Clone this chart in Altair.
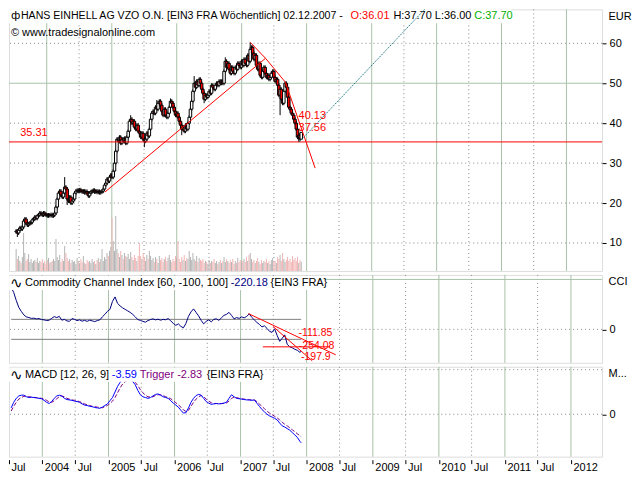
import altair as alt
import pandas as pd

FONT = "Liberation Sans"

# ---------------- data ----------------
dates = pd.date_range(end="2007-12-02", periods=230, freq="7D")

close = [
    13.0, 12.5, 13.2, 13.8, 13.5, 14.0, 15.5, 16.0, 15.0, 14.5,
    14.8, 15.0, 15.2, 15.8, 16.0, 16.5, 16.2, 16.8, 17.0, 17.5,
    17.3, 17.0, 17.5, 17.2, 17.0, 16.8, 17.0, 16.9, 17.1, 16.8,
    17.0, 17.5, 19.0, 21.0, 22.5, 23.0, 22.0, 21.5, 22.5, 24.0,
    23.5, 21.0, 20.5, 21.5, 20.0, 20.5, 21.0, 22.5, 23.0, 23.2,
    23.0, 23.3, 23.0, 22.8, 23.0, 22.6, 22.9, 22.5, 21.8, 22.5,
    22.8, 23.0, 23.2, 22.8, 23.0, 22.7, 22.9, 22.6, 22.8, 23.0,
    23.5, 24.5, 25.0, 26.0, 25.5, 26.5, 27.0, 26.5, 28.0, 30.0,
    33.0, 36.0, 35.5, 36.5, 35.0, 36.0, 35.5, 36.2, 35.0, 36.5,
    38.0, 40.5, 41.0, 40.0, 40.5, 39.0, 38.5, 39.5, 38.0, 37.5,
    36.5, 37.5, 36.0, 35.5, 36.0, 37.5, 36.8, 38.5, 41.0, 42.5,
    43.0, 42.5, 44.0, 43.5, 45.0, 45.5, 44.5, 43.0, 42.0, 43.5,
    42.0, 41.5, 42.5, 44.0, 45.5, 45.0, 44.0, 43.0, 42.0, 42.5,
    41.5, 40.5, 39.5, 38.5, 39.0, 38.0, 39.5, 38.5, 40.0, 41.5,
    43.5, 45.5, 48.0, 50.0, 49.0, 50.5, 49.5, 51.0, 50.0, 48.5,
    47.5, 46.0, 47.0, 46.5, 47.0, 48.0, 47.5, 49.5, 49.0, 48.5,
    49.5, 50.0, 49.5, 50.5, 50.0, 50.5, 50.0, 53.0, 55.5, 54.0,
    55.0, 53.5, 52.5, 54.0, 53.0, 52.5, 54.0, 53.5, 55.0, 54.5,
    54.0, 55.5, 54.5, 56.0, 55.0, 54.5, 57.0, 55.5, 58.5, 59.0,
    57.5, 56.0, 57.0, 54.5, 53.5, 55.0, 52.0, 51.5, 53.0, 54.0,
    52.5, 51.5, 52.0, 51.0, 51.5, 52.5, 53.0, 51.5, 50.5, 51.0,
    49.5, 47.0, 48.5, 46.0, 45.0, 48.0, 50.0, 49.0, 46.5, 44.0,
    43.5, 42.5, 42.0, 41.0, 40.0, 38.5, 36.5, 37.0, 36.01, 37.70,
]
first_open = 12.8
high_spikes = {39: 26.5, 92: 42.0, 113: 45.8, 124: 46.2, 143: 51.8, 168: 56.5, 188: 60.2, 229: 37.70}
low_spikes = {1: 11.5, 41: 19.5, 103: 34.0, 133: 37.0, 151: 45.0, 212: 42.0, 227: 35.3, 229: 36.00}

volume = [
    22, 12, 15, 10, 8, 14, 38, 18, 10, 12,
    17, 9, 12, 8, 10, 11, 9, 13, 8, 10,
    9, 12, 8, 10, 7, 11, 13, 8, 9, 10,
    12, 10, 32, 14, 11, 16, 9, 12, 10, 25,
    18, 13, 10, 12, 8, 11, 9, 10, 7, 13,
    10, 8, 12, 9, 15, 8, 7, 11, 9, 10,
    8, 12, 9, 10, 7, 11, 13, 9, 12, 22,
    10, 14, 12, 18, 15, 20, 24, 53, 30, 20,
    55, 22, 18, 14, 20, 16, 12, 18, 15, 14,
    17, 12, 19, 14, 11, 16, 13, 10, 15, 28,
    15, 12, 18, 14, 10, 16, 12, 20, 15, 11,
    13, 9, 14, 12, 8, 15, 11, 13, 9, 12,
    14, 10, 13, 16, 11, 9, 12, 10, 15, 13,
    30, 12, 9, 14, 11, 16, 10, 13, 12, 20,
    14, 11, 18, 12, 10, 15, 9, 13, 11, 10,
    12, 8, 10, 9, 7, 11, 8, 10, 9, 12,
    8, 10, 7, 9, 11, 8, 10, 14, 9, 12,
    10, 8, 11, 9, 12, 7, 10, 8, 13, 9,
    11, 8, 10, 12, 9, 14, 10, 16, 18, 12,
    9, 11, 8, 10, 13, 9, 7, 11, 8, 10,
    9, 12, 8, 10, 7, 11, 13, 9, 10, 8,
    14, 12, 16, 10, 18, 12, 9, 11, 14, 10,
    12, 9, 15, 11, 13, 10, 14, 8, 11, 9,
]

ind_weeks = list(range(0, 230, 2)) + [229]
cci = [
    420, 370, 290, 220, 180, 145, 125, 118, 110, 112,
    105, 108, 98, 95, 88, 92, 110, 128, 118, 130,
    92, 100, 85, 80, 108, 100, 88, 95, 82, 90,
    80, 92, 85, 78, 88, 95, 125, 150, 180, 200,
    280, 325, 260, 235, 215, 200, 185, 170, 150, 125,
    98, 90, 80, 72, 88, 98, 105, 95, 102, 92,
    100, 96, 108, 85, 60, 40, 55, 30, 15, 60,
    130, 175, 205, 170, 135, 90, 55, 80, 95, 75,
    100, 105, 90, 115, 140, 150, 170, 140, 105, 118,
    110, 125, 115, 130, 155, 120, 95, 70, 50, 25,
    35, 10, -20, -30, 5, -60, -120, -90, -55, -150,
    -175, -185, -200, -210, -230,
    -220.18,
]
macd = [
    0.8, 1.5, 2.0, 2.3, 2.4, 2.4, 2.2, 2.1, 2.15, 2.1,
    2.05, 2.0, 1.95, 1.75, 1.5, 1.35, 1.6, 2.0, 2.3, 2.4,
    2.3, 2.0, 1.85, 1.8, 1.75, 1.65, 1.6, 1.5, 1.3, 1.15,
    1.1, 1.0, 0.95, 0.85, 0.8, 0.75, 0.9, 1.1, 1.3, 1.7,
    2.1, 2.8, 3.5, 4.0, 4.35, 4.35, 4.4, 4.35, 4.1, 3.7,
    3.0, 2.45, 2.2, 2.1, 2.0, 2.1, 2.3, 2.5, 2.55, 2.4,
    2.2, 2.1, 2.0, 1.7, 1.4, 1.15, 0.9, 0.5, 0.15, 0.2,
    0.8, 1.5, 2.0, 2.35, 2.5, 2.4, 2.0, 1.6, 1.4, 1.25,
    1.3, 1.35, 1.3, 1.35, 1.4, 1.5, 2.0, 2.45, 2.2, 2.0,
    1.95, 1.9, 1.85, 1.8, 1.8, 1.75, 1.8, 1.4, 1.0, 0.6,
    0.3, 0.0, -0.2, -0.35, -0.5, -0.7, -1.1, -1.45, -1.6, -1.8,
    -2.0, -2.3, -2.6, -2.9, -3.4,
    -3.59,
]
trigger = [
    0.4, 1.0, 1.5, 1.9, 2.1, 2.25, 2.3, 2.2, 2.15, 2.12,
    2.1, 2.05, 2.0, 1.9, 1.75, 1.55, 1.5, 1.7, 1.95, 2.2,
    2.3, 2.2, 2.0, 1.9, 1.8, 1.75, 1.65, 1.6, 1.45, 1.3,
    1.2, 1.1, 1.0, 0.95, 0.9, 0.85, 0.82, 0.95, 1.1, 1.35,
    1.65, 2.1, 2.7, 3.3, 3.8, 4.1, 4.25, 4.3, 4.2, 4.0,
    3.6, 3.1, 2.7, 2.4, 2.2, 2.15, 2.2, 2.35, 2.45, 2.45,
    2.35, 2.2, 2.1, 1.95, 1.7, 1.45, 1.2, 0.9, 0.55, 0.35,
    0.5, 1.0, 1.5, 1.9, 2.2, 2.35, 2.2, 1.9, 1.65, 1.45,
    1.35, 1.35, 1.33, 1.33, 1.37, 1.42, 1.65, 2.0, 2.15, 2.1,
    2.0, 1.95, 1.9, 1.85, 1.82, 1.8, 1.8, 1.6, 1.3, 1.0,
    0.7, 0.4, 0.15, -0.05, -0.25, -0.45, -0.7, -1.0, -1.25, -1.45,
    -1.7, -1.95, -2.2, -2.45, -2.7,
    -2.83,
]

year_lines = ["2004-01-01", "2005-01-01", "2006-01-01", "2007-01-01", "2008-01-01",
              "2009-01-01", "2010-01-01", "2011-01-01", "2012-01-01"]
jul_lines = ["2004-07-01", "2005-07-01", "2006-07-01", "2007-07-01",
             "2008-07-01", "2009-07-01", "2010-07-01", "2011-07-01"]
price_grid_dotted = [10, 20, 30, 40, 60]
price_grid_solid = [50]
price_ticks = [10, 20, 30, 40, 50, 60]

support_level = 35.31
trend_lines = {
    "up": (["2004-11-23", "2007-05-15"], [22.75, 56.25]),
    "down": (["2007-02-18", "2007-05-15", "2007-09-04", "2008-02-18"], [60.25, 56.25, 50.25, 28.75]),
}
teal_line = (["2007-11-20", "2009-12-02"], [35.25, 70.25])
price_labels = [("35.31", "2003-08-05", 37.6), ("40.13", "2007-11-17", 41.7), ("37.56", "2007-11-17", 38.9)]

cci_levels = [100, -100]
cci_lines = {
    "a": (["2007-02-13", "2008-06-10"], [158, -255]),
    "b": (["2007-06-30", "2008-02-01"], [28, -315]),
    "c": (["2007-05-04", "2008-05-09"], [-175, -175]),
}
cci_labels = [("-111.85", "2007-11-17", -40), ("-254.08", "2007-11-19", -168), ("-197.9", "2007-12-01", -278)]

header = [("ф", 2, "black", 11),
          ("HANS EINHELL AG VZO O.N. [EIN3 FRA  Wöchentlich] 02.12.2007 -", 12, "black", 10.6),
          ("O:36.01", 342, "#ff0000", 11), ("H:37.70 L:36.00", 385, "black", 11), ("C:37.70", 466, "#00b000", 11)]
cci_title = [("Commodity Channel Index [60, -100, 100]", 16, "black", 11),
             ("-220.18", 222, "#000080", 11), ("{EIN3 FRA}", 262, "black", 11)]
macd_title = [("MACD [12, 26, 9]", 16, "black", 11), ("-3.59", 103, "#0000ff", 11),
              ("Trigger -2.83", 131, "#800080", 11), ("{EIN3 FRA}", 198, "black", 11)]
wave_icon = ("∿", 1, "black", 15)

# ---------------- tables ----------------
opens = [first_open] + close[:-1]
rows = []
for i, d in enumerate(dates):
    o, c = opens[i], close[i]
    rows.append(dict(date=d, open=o, close=c,
                     high=high_spikes.get(i, max(o, c) + 0.5),
                     low=low_spikes.get(i, min(o, c) - 0.5),
                     vol=volume[i]))
candles = pd.DataFrame(rows)

ind = pd.DataFrame({"date": dates[ind_weeks], "cci": cci, "macd": macd, "trigger": trigger})
one = pd.DataFrame({"a": [0]})


def seg_df(d):
    out = []
    for k, (ds, vs) in d.items():
        for dd, vv in zip(ds, vs):
            out.append(dict(seg=k, date=pd.Timestamp(dd), v=vv))
    return pd.DataFrame(out)


# ---------------- layout ----------------
W = 594
H1, H2, H3 = 262, 88, 90
xdom = [alt.DateTime(year=2003, month=7, date=1), alt.DateTime(year=2012, month=6, date=21)]
xscale = alt.Scale(domain=xdom, nice=False)
GREEN = "#a9c2a9"
DOT = "#8c8c8c"


def X(field="date", axis=None):
    return alt.X(f"{field}:T", scale=xscale, axis=axis, title=None)


def right_axis(values, title):
    return alt.Axis(orient="right", values=values, tickSize=4, tickColor="black", labelPadding=3,
                    domain=False, grid=False, title=title, titleAngle=0, titleAlign="left",
                    titleBaseline="top", titleX=6, titleY=1, titleFont=FONT, titleFontSize=11,
                    titleFontWeight="normal", titleColor="black", labelFont=FONT, labelFontSize=11,
                    labelColor="black")


def vgrid(xf=X):
    yl = pd.DataFrame({"date": pd.to_datetime(year_lines)})
    jl = pd.DataFrame({"date": pd.to_datetime(jul_lines)})
    return [alt.Chart(yl).mark_rule(color=GREEN, strokeWidth=1).encode(x=xf()),
            alt.Chart(jl).mark_rule(color=DOT, strokeWidth=1, strokeDash=[1, 3]).encode(x=xf())]


def texts(items, y):
    out = []
    for t, px, col, size in items:
        fnt = "DejaVu Sans" if t in ("∿", "ф") else FONT
        out.append(alt.Chart(one).mark_text(text=t, align="left", baseline="middle", font=fnt,
                                            fontSize=size, color=col).encode(x=alt.value(px), y=alt.value(y)))
    return out


def box(x1, x2, y1, y2):
    return alt.Chart(one).mark_rect(color="white").encode(
        x=alt.value(x1), x2=alt.value(x2), y=alt.value(y1), y2=alt.value(y2))


# ---- main price panel ----
pscale = alt.Scale(domain=[3.0, 68.5], nice=False, zero=False)
paxis = right_axis(price_ticks, "EUR")


def PY(field, axis=paxis):
    return alt.Y(f"{field}:Q", scale=pscale, axis=axis, title=None)


grid_layer = alt.layer(
    *vgrid(),
    alt.Chart(pd.DataFrame({"v": price_grid_dotted})).mark_rule(color=DOT, strokeDash=[1, 3]).encode(y=PY("v", None)),
    alt.Chart(pd.DataFrame({"v": price_grid_solid})).mark_rule(color=GREEN).encode(y=PY("v", None)),
)

vol_layer = alt.Chart(candles).mark_bar(size=1).encode(
    x=X(),
    y=alt.Y("vol:Q", scale=alt.Scale(domain=[0, H1], nice=False), axis=None, title=None),
    color=alt.condition("datum.close < datum.open", alt.value("#f2b4b4"), alt.value("#b4b4b4")),
)

wicks = alt.Chart(candles).mark_rule(color="black", strokeWidth=1).encode(x=X(), y=PY("low"), y2="high:Q")
bodies = alt.Chart(candles).mark_bar(size=2.5, stroke="black", strokeWidth=1).encode(
    x=X(), y=PY("open"), y2="close:Q",
    fill=alt.condition("datum.close < datum.open", alt.value("#ff0000"), alt.value("white")),
)
support = alt.Chart(pd.DataFrame({"v": [support_level]})).mark_rule(color="#ff0000", strokeWidth=1).encode(y=PY("v"))
trends = alt.Chart(seg_df(trend_lines)).mark_line(color="#ff0000", strokeWidth=1).encode(
    x=X(), y=PY("v"), detail="seg:N")
teal = alt.Chart(seg_df({"t": teal_line})).mark_line(color="#1f7a85", strokeWidth=1, strokeDash=[1.5, 1], clip=True).encode(
    x=X(), y=PY("v"))
plab_df = pd.DataFrame({"t": [p[0] for p in price_labels], "date": pd.to_datetime([p[1] for p in price_labels]),
                        "v": [p[2] for p in price_labels]})
plabs = alt.Chart(plab_df).mark_text(align="left", baseline="middle", font=FONT, fontSize=11, color="#ff0000").encode(
    x=X(), y=PY("v"), text="t:N")

price_layer = alt.layer(
    wicks, bodies, support, trends, plabs,
    box(0, 503, 0, 14),
    *texts(header, 7),
    *texts([("© www.tradesignalonline.com", 2, "black", 11)], 24),
    teal,
)

main = alt.layer(grid_layer, vol_layer, price_layer).resolve_scale(y="independent").properties(width=W, height=H1)

# ---- CCI panel ----
cscale = alt.Scale(domain=[-335, 545], nice=False, zero=False)
caxis = right_axis([0], "CCI")


def CY(field, axis=caxis):
    return alt.Y(f"{field}:Q", scale=cscale, axis=axis, title=None)


lvl_df = pd.DataFrame({"v": cci_levels, "date": [dates[0]] * 2, "date2": [dates[-1]] * 2})
clab_df = pd.DataFrame({"t": [p[0] for p in cci_labels], "date": pd.to_datetime([p[1] for p in cci_labels]),
                        "v": [p[2] for p in cci_labels]})
cci_panel = alt.layer(
    *vgrid(),
    alt.Chart(pd.DataFrame({"v": [500]})).mark_rule(color=GREEN).encode(y=CY("v")),
    alt.Chart(pd.DataFrame({"v": [0]})).mark_rule(color=DOT, strokeDash=[1, 3]).encode(y=CY("v")),
    alt.Chart(lvl_df).mark_rule(color="#808080", strokeWidth=1).encode(x=X(), x2="date2:T", y=CY("v")),
    alt.Chart(ind).mark_line(color="#000080", strokeWidth=1).encode(x=X(), y=CY("cci")),
    alt.Chart(seg_df(cci_lines)).mark_line(color="#ff0000", strokeWidth=1).encode(x=X(), y=CY("v"), detail="seg:N"),
    alt.Chart(clab_df).mark_text(align="left", baseline="middle", font=FONT, fontSize=10.5, color="#ff0000").encode(
        x=X(), y=CY("v"), text="t:N"),
    box(0, 316, 1, 15),
    *texts([wave_icon] + cci_title, 8),
).properties(width=W, height=H2)

# ---- MACD panel ----
mscale = alt.Scale(domain=[-5.32, 5.96], nice=False, zero=False)
maxis = right_axis([0], "M...")
xticks = []
for y in range(2003, 2013):
    if y >= 2004:
        xticks.append(alt.DateTime(year=y, month=1, date=1))
    if y <= 2011:
        xticks.append(alt.DateTime(year=y, month=7, date=1))
xaxis = alt.Axis(orient="bottom", values=xticks, domain=False, grid=False, tickSize=4, tickColor="black",
                 offset=3, labelAlign="left", labelBaseline="top", labelPadding=-2, labelOffset=2,
                 labelFont=FONT, labelFontSize=11, labelColor="black", labelOverlap=False,
                 labelExpr="month(datum.value) == 6 ? 'Jul' : timeFormat(datum.value, '%Y')")


def MX(field="date"):
    return X(field, xaxis)


def MY(field, axis=maxis):
    return alt.Y(f"{field}:Q", scale=mscale, axis=axis, title=None)


macd_panel = alt.layer(
    *vgrid(MX),
    alt.Chart(pd.DataFrame({"v": [0, 5.6]})).mark_rule(color=DOT, strokeDash=[1, 3]).encode(y=MY("v")),
    alt.Chart(ind).mark_line(color="#800080", strokeWidth=1, strokeDash=[4, 2]).encode(x=MX(), y=MY("trigger")),
    alt.Chart(ind).mark_line(color="#0000ff", strokeWidth=1).encode(x=MX(), y=MY("macd")),
    box(0, 254, 1, 15),
    *texts([wave_icon] + macd_title, 8),
).properties(width=W, height=H3)

chart = alt.vconcat(main, cci_panel, macd_panel, spacing=4, bounds="flush").properties(
    padding={"left": 0, "top": 0, "right": 0, "bottom": 0}
).configure_view(fill="#f5f5f5", stroke="black", strokeWidth=1).configure(background="white")

chart.save("out.html", embed_options={"renderer": "svg", "actions": False})
